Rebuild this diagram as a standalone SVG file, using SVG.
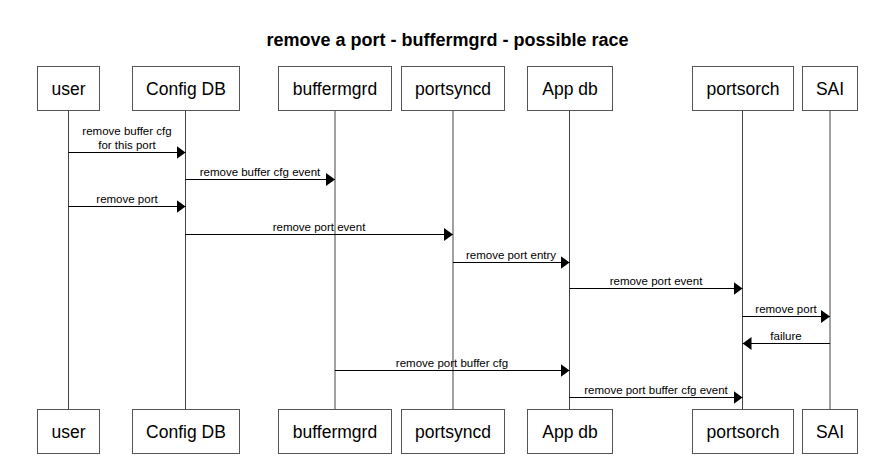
<svg xmlns="http://www.w3.org/2000/svg" width="883" height="464" viewBox="0 0 883 464">
<style>
.box{fill:#fff;stroke:#555;stroke-width:1}
.life{stroke:#444;stroke-width:1}
.msg{stroke:#000;stroke-width:1;fill:none;marker-end:url(#ah)}
.bt{font-family:"Liberation Sans",Arial,sans-serif;font-size:17.5px;fill:#000;text-anchor:middle}
.lt{font-family:"Liberation Sans",Arial,sans-serif;font-size:11.5px;fill:#000;text-anchor:middle}
.title{font-family:"Liberation Sans",Arial,sans-serif;font-size:18px;font-weight:bold;fill:#000;text-anchor:middle}
</style>
<defs>
<marker id="ah" markerWidth="9" markerHeight="13" refX="9" refY="6.5" orient="auto" markerUnits="userSpaceOnUse">
<path d="M0,0 L9,6.5 L0,13 Z" fill="#000"/>
</marker>
</defs>
<rect width="883" height="464" fill="#fff"/>
<text class="title" x="447.5" y="46">remove a port - buffermgrd - possible race</text>
<g id="lifelines">
<line class="life" x1="68.5" y1="110" x2="68.5" y2="409"/>
<line class="life" x1="185.5" y1="110" x2="185.5" y2="409"/>
<line class="life" x1="335" y1="110" x2="335" y2="409"/>
<line class="life" x1="453" y1="110" x2="453" y2="409"/>
<line class="life" x1="569.5" y1="110" x2="569.5" y2="409"/>
<line class="life" x1="742.5" y1="110" x2="742.5" y2="409"/>
<line class="life" x1="830" y1="110" x2="830" y2="409"/>
</g>
<g id="user"><rect class="box" x="37.5" y="66.5" width="62" height="44"/><text class="bt" x="68.5" y="94.5">user</text>
<rect class="box" x="37.5" y="409.5" width="62" height="44"/><text class="bt" x="68.5" y="437.5">user</text></g>
<g id="configdb"><rect class="box" x="132.5" y="66.5" width="107" height="44"/><text class="bt" x="186" y="94.5">Config DB</text>
<rect class="box" x="132.5" y="409.5" width="107" height="44"/><text class="bt" x="186" y="437.5">Config DB</text></g>
<g id="buffermgrd"><rect class="box" x="278.5" y="66.5" width="113" height="44"/><text class="bt" x="335" y="94.5">buffermgrd</text>
<rect class="box" x="278.5" y="409.5" width="113" height="44"/><text class="bt" x="335" y="437.5">buffermgrd</text></g>
<g id="portsyncd"><rect class="box" x="401.5" y="66.5" width="103" height="44"/><text class="bt" x="453" y="94.5">portsyncd</text>
<rect class="box" x="401.5" y="409.5" width="103" height="44"/><text class="bt" x="453" y="437.5">portsyncd</text></g>
<g id="appdb"><rect class="box" x="527.5" y="66.5" width="85" height="44"/><text class="bt" x="570" y="94.5">App db</text>
<rect class="box" x="527.5" y="409.5" width="85" height="44"/><text class="bt" x="570" y="437.5">App db</text></g>
<g id="portsorch"><rect class="box" x="692.5" y="66.5" width="101" height="44"/><text class="bt" x="743" y="94.5">portsorch</text>
<rect class="box" x="692.5" y="409.5" width="101" height="44"/><text class="bt" x="743" y="437.5">portsorch</text></g>
<g id="sai"><rect class="box" x="802.5" y="66.5" width="55" height="44"/><text class="bt" x="830" y="94.5">SAI</text>
<rect class="box" x="802.5" y="409.5" width="55" height="44"/><text class="bt" x="830" y="437.5">SAI</text></g>
<g id="connectors">
<line class="msg" x1="68.5" y1="152.5" x2="185.5" y2="152.5"/>
<text class="lt" x="127" y="135">remove buffer cfg</text>
<text class="lt" x="127" y="149">for this port</text>
<line class="msg" x1="185.5" y1="179.5" x2="335" y2="179.5"/>
<text class="lt" x="260" y="176">remove buffer cfg event</text>
<line class="msg" x1="68.5" y1="206.5" x2="185.5" y2="206.5"/>
<text class="lt" x="127" y="203">remove port</text>
<line class="msg" x1="185.5" y1="234.5" x2="453" y2="234.5"/>
<text class="lt" x="319" y="231">remove port event</text>
<line class="msg" x1="453" y1="262.5" x2="569.5" y2="262.5"/>
<text class="lt" x="511" y="259">remove port entry</text>
<line class="msg" x1="569.5" y1="288.5" x2="742.5" y2="288.5"/>
<text class="lt" x="656" y="285">remove port event</text>
<line class="msg" x1="742.5" y1="316.5" x2="830" y2="316.5"/>
<text class="lt" x="786" y="313">remove port</text>
<line class="msg" x1="830" y1="343.5" x2="742.5" y2="343.5"/>
<text class="lt" x="786" y="340">failure</text>
<line class="msg" x1="335" y1="370.5" x2="569.5" y2="370.5"/>
<text class="lt" x="452" y="367">remove port buffer cfg</text>
<line class="msg" x1="569.5" y1="397.5" x2="742.5" y2="397.5"/>
<text class="lt" x="656" y="394">remove port buffer cfg event</text>
</g>
</svg>
